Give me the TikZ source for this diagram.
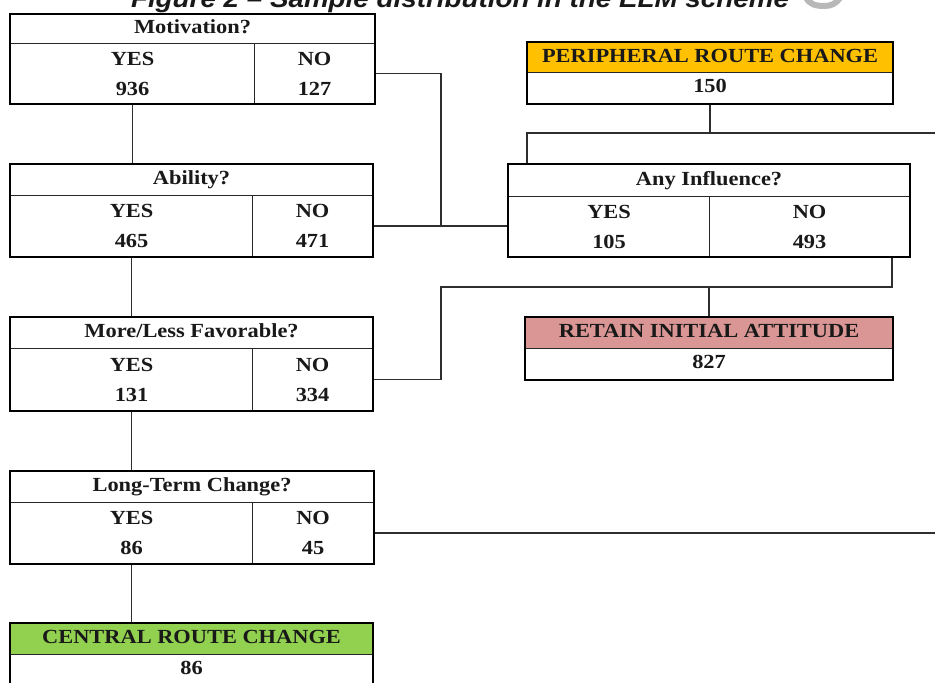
\documentclass[tikz,border=0pt]{standalone}
\usepackage{fontspec}
\setmainfont{Liberation Serif}[FakeStretch=1.12]
\newfontfamily\titlefont{Liberation Sans}[FakeStretch=1.09]
\usetikzlibrary{fit,calc}
\definecolor{perorange}{HTML}{FFC000}
\definecolor{retpink}{HTML}{DA9694}
\definecolor{cengreen}{HTML}{92D050}
\definecolor{linegrey}{HTML}{2E2E2E}
\begin{document}
\begin{tikzpicture}[x=1pt,y=-1pt,
  cell/.style={draw=black!85, line width=1.1pt, inner sep=0pt, anchor=north west,
    font=\fontsize{20}{30}\selectfont\bfseries, align=center, text=black!90},
  head/.style={cell, text height=13.5pt, text depth=4pt},
  outer/.style={draw=black, line width=2.5pt, inner sep=0pt},
  conn/.style={draw=linegrey, line width=1.2pt}]
\clip (0,0) rectangle (935,683);
\fill[white] (0,0) rectangle (935,683);

% cut-off caption (the reference shows only its lower part)
\node[anchor=base, inner sep=0pt, text=black!90,
  font=\titlefont\fontsize{25.5}{30}\selectfont\bfseries\itshape] (cap) at (460,7)
  {Figure 2 – Sample distribution in the ELM scheme};
\draw[black!28, line width=6pt, line cap=round] (806,-3) to[out=-70,in=180] (824,6) to[out=0,in=-125] (840,-2);

% Motivation
\node[head, minimum width=364, minimum height=29] (motT) at (10,14) {Motivation?};
\node[cell, minimum width=244, minimum height=60] (motY) at (10,43) {YES\\936};
\node[cell, minimum width=120, minimum height=60] (motN) at (254,43) {NO\\127};
\node[outer, fit=(motT)(motY)(motN)] (mot) {};

% Ability
\node[head, minimum width=362, minimum height=31] (abiT) at (10,164) {Ability?};
\node[cell, minimum width=242, minimum height=61] (abiY) at (10,195) {YES\\465};
\node[cell, minimum width=120, minimum height=61] (abiN) at (252,195) {NO\\471};
\node[outer, fit=(abiT)(abiY)(abiN)] (abi) {};

% More/Less
\node[head, minimum width=362, minimum height=31] (morT) at (10,317) {More/Less Favorable?};
\node[cell, minimum width=242, minimum height=62] (morY) at (10,348) {YES\\131};
\node[cell, minimum width=120, minimum height=62] (morN) at (252,348) {NO\\334};
\node[outer, fit=(morT)(morY)(morN)] (mor) {};

% Long-Term
\node[head, minimum width=363, minimum height=31] (lonT) at (10,471) {Long-Term Change?};
\node[cell, minimum width=242, minimum height=61] (lonY) at (10,502) {YES\\86};
\node[cell, minimum width=121, minimum height=61] (lonN) at (252,502) {NO\\45};
\node[outer, fit=(lonT)(lonY)(lonN)] (lon) {};

% Central route
\node[head, fill=cengreen, minimum width=362, minimum height=31] (cenT) at (10,623) {CENTRAL ROUTE CHANGE};
\node[head, minimum width=362, minimum height=31] (cenV) at (10,654) {86};
\node[outer, fit=(cenT)(cenV)] (cen) {};

% Any Influence
\node[head, minimum width=401, minimum height=32] (anyT) at (508,164) {Any Influence?};
\node[cell, minimum width=201, minimum height=60] (anyY) at (508,196) {YES\\105};
\node[cell, minimum width=200, minimum height=60] (anyN) at (709,196) {NO\\493};
\node[outer, fit=(anyT)(anyY)(anyN)] (any) {};

% Peripheral route
\node[head, fill=perorange, minimum width=365, minimum height=30] (perT) at (527,42) {PERIPHERAL ROUTE CHANGE};
\node[head, minimum width=365, minimum height=31] (perV) at (527,72) {150};
\node[outer, fit=(perT)(perV)] (per) {};

% Retain
\node[head, fill=retpink, minimum width=367, minimum height=31] (retT) at (525,317) {RETAIN INITIAL ATTITUDE};
\node[head, minimum width=367, minimum height=31] (retV) at (525,348) {827};
\node[outer, fit=(retT)(retV)] (ret) {};

% junction coordinates
\coordinate (j1) at (441,225);
\coordinate (j2) at (441,287);
\coordinate (j3) at (892,287);
\coordinate (j4) at (527,133);
\coordinate (e1) at (935,133);
\coordinate (e2) at (935,532);

% connectors
\draw[conn] (mot.south -| motY.south) -- (abi.north -| motY.south);
\draw[conn] (abi.south -| abiY.south) -- (mor.north -| abiY.south);
\draw[conn] (mor.south -| morY.south) -- (lon.north -| morY.south);
\draw[conn] (lon.south -| lonY.south) -- (cen.north -| lonY.south);
\draw[conn] (mot.east |- motN.east) -| (j1);
\draw[conn] (abi.east |- abiN.east) -- (any.west |- abiN.east);
\draw[conn] (mor.east |- morN.east) -| (j2) -- (j3) -- (j3 |- any.south);
\draw[conn] (ret.north) -- (ret.north |- j2);
\draw[conn] (per.south) -- (per.south |- j4);
\draw[conn] (e1) -- (j4) -- (j4 |- any.north);
\draw[conn] (lon.east |- lonN.east) -- (lonN.east -| e2);
\end{tikzpicture}
\end{document}
